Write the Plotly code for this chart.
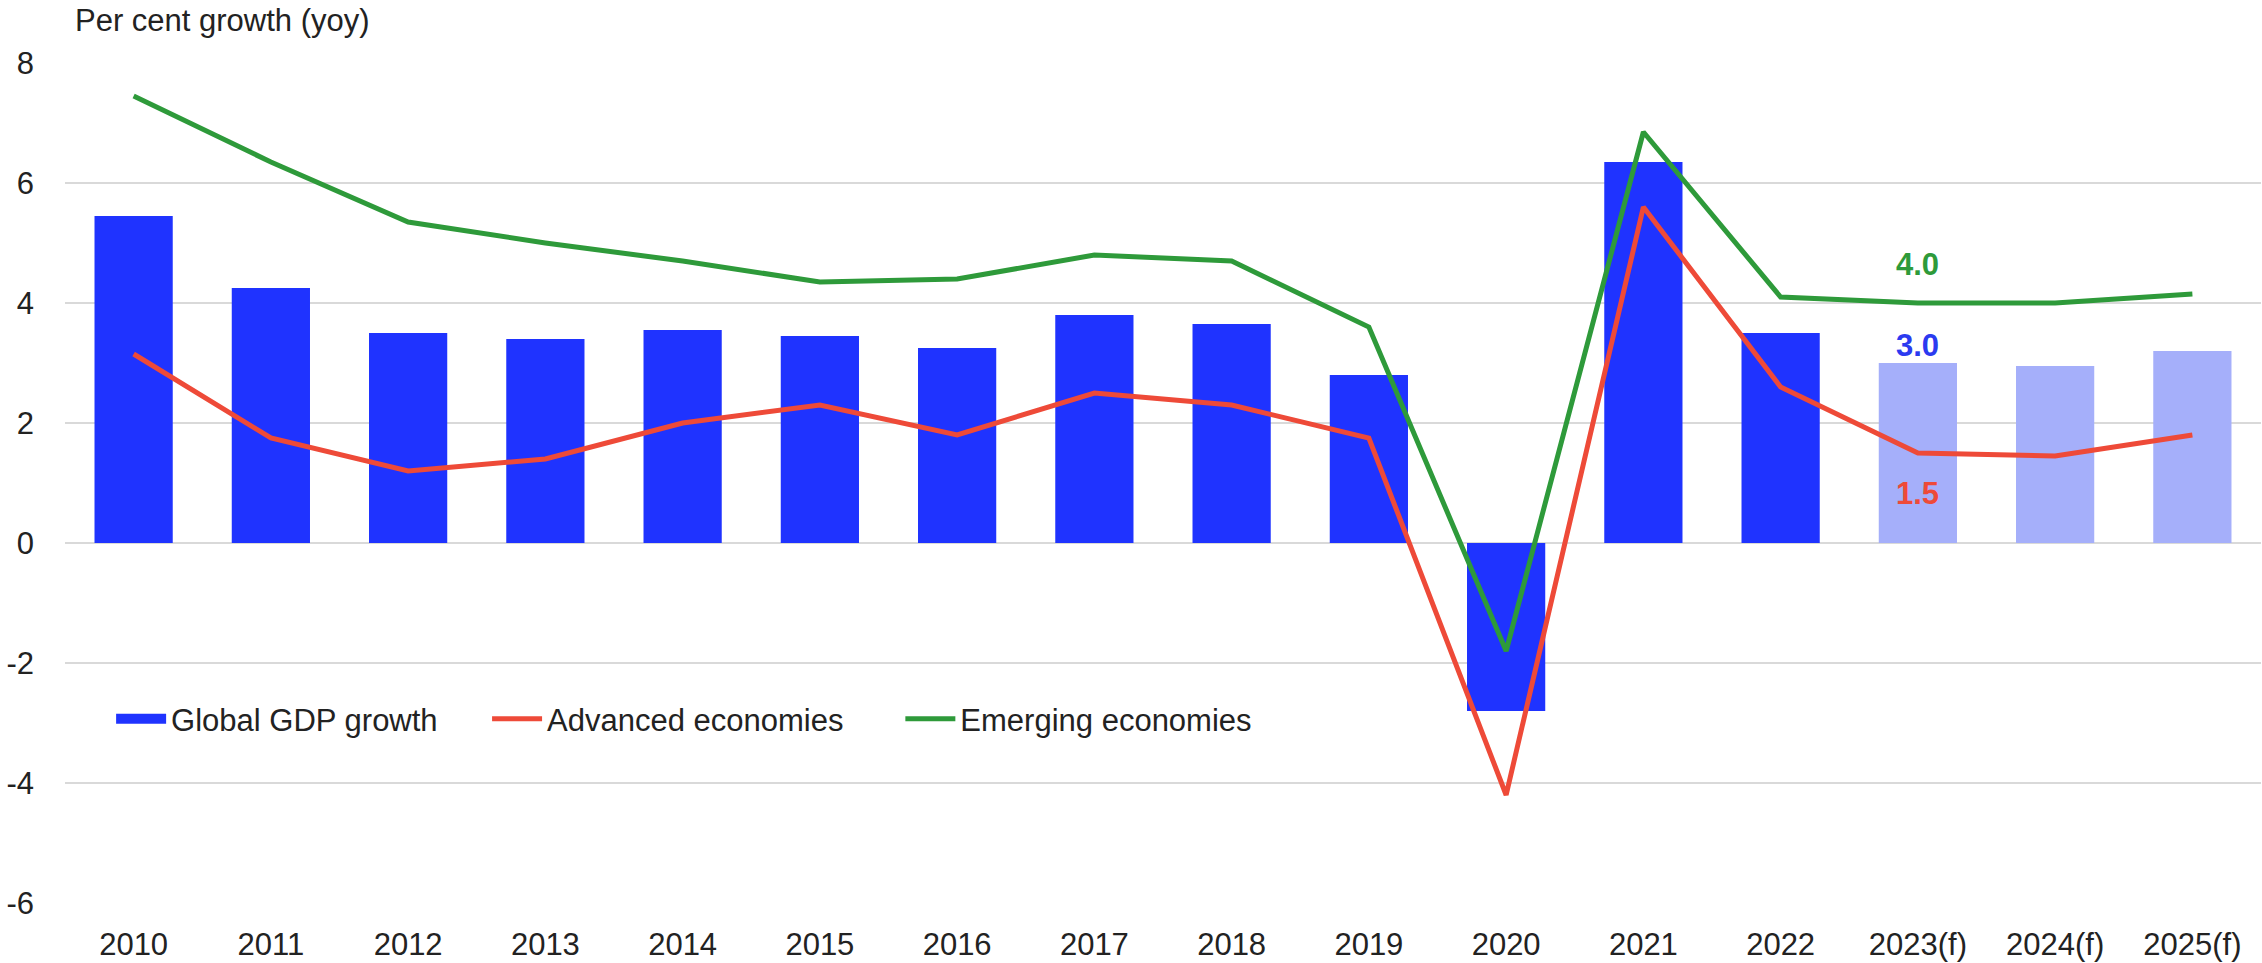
import plotly.graph_objects as go

# Data
years = ["2010", "2011", "2012", "2013", "2014", "2015", "2016", "2017",
         "2018", "2019", "2020", "2021", "2022", "2023(f)", "2024(f)", "2025(f)"]
global_gdp = [5.45, 4.25, 3.5, 3.4, 3.55, 3.45, 3.25, 3.8,
              3.65, 2.8, -2.8, 6.35, 3.5, 3.0, 2.95, 3.2]
advanced = [3.15, 1.75, 1.2, 1.4, 2.0, 2.3, 1.8, 2.5,
            2.3, 1.75, -4.2, 5.6, 2.6, 1.5, 1.45, 1.8]
emerging = [7.45, 6.35, 5.35, 5.0, 4.7, 4.35, 4.4, 4.8,
            4.7, 3.6, -1.8, 6.85, 4.1, 4.0, 4.0, 4.15]
y_ticks = [-6, -4, -2, 0, 2, 4, 6, 8]

BLUE = "#1f33ff"
BLUE_LIGHT = "#a5affa"
RED = "#ee4a38"
GREEN = "#2e9a3a"
FONT = "Liberation Sans, Arial, sans-serif"

bar_colors = [BLUE_LIGHT if "(f)" in y else BLUE for y in years]

fig = go.Figure()
fig.add_trace(go.Bar(
    x=years, y=global_gdp, name="Global GDP growth", legendgroup="gdp",
    showlegend=False, marker=dict(color=bar_colors, line=dict(width=0)),
))
# legend-only entry so the bar key is drawn as a wide block like the original
fig.add_trace(go.Scatter(
    x=[None], y=[None], name="Global GDP growth", legendgroup="gdp",
    mode="lines", line=dict(color=BLUE, width=20), legend="legend",
))
fig.add_trace(go.Scatter(
    x=years, y=advanced, name="Advanced economies", mode="lines",
    line=dict(color=RED, width=5), legend="legend2",
))
fig.add_trace(go.Scatter(
    x=years, y=emerging, name="Emerging economies", mode="lines",
    line=dict(color=GREEN, width=5), legend="legend3",
))

# value labels for the first forecast year
i = years.index("2023(f)")
fig.add_annotation(x=years[i], y=emerging[i], text=f"<b>{emerging[i]:.1f}</b>",
                   showarrow=False, yshift=39, font=dict(color=GREEN, size=31, family=FONT))
fig.add_annotation(x=years[i], y=global_gdp[i], text=f"<b>{global_gdp[i]:.1f}</b>",
                   showarrow=False, yshift=18, font=dict(color="#2b3af0", size=31, family=FONT))
fig.add_annotation(x=years[i], y=advanced[i], text=f"<b>{advanced[i]:.1f}</b>",
                   showarrow=False, yshift=-40, font=dict(color=RED, size=31, family=FONT))

fig.add_annotation(xref="paper", yref="paper", x=0.0036, y=1.0, yshift=43,
                   xanchor="left", yanchor="middle", showarrow=False,
                   text="Per cent growth (yoy)", font=dict(size=31, color="#222", family=FONT))

legend_style = dict(orientation="h", y=0.219, xanchor="left", yanchor="middle",
                    bgcolor="rgba(0,0,0,0)", itemwidth=50, font=dict(size=31))

fig.update_layout(
    width=2262, height=963,
    margin=dict(l=65, r=1, t=63, b=60),
    plot_bgcolor="white", paper_bgcolor="white",
    font=dict(family=FONT, size=31, color="#222"),
    bargap=0.43,
    showlegend=True,
    legend=dict(x=0.021, **legend_style),
    legend2=dict(x=0.1922, **legend_style),
    legend3=dict(x=0.3804, **legend_style),
    xaxis=dict(range=[-0.5, 15.5], showgrid=False, showline=False, zeroline=False,
               ticks="", ticklabelstandoff=20),
    yaxis=dict(range=[-6, 8], tickvals=y_ticks, ticktext=[str(v) for v in y_ticks],
               showgrid=True, gridcolor="#d9d9d9", gridwidth=2,
               zeroline=True, zerolinecolor="#d9d9d9", zerolinewidth=2,
               showline=False, ticks="", ticklabelstandoff=30),
)

fig.write_html("out.html", config={"displayModeBar": False},
               post_script="document.body.style.margin='0';")
